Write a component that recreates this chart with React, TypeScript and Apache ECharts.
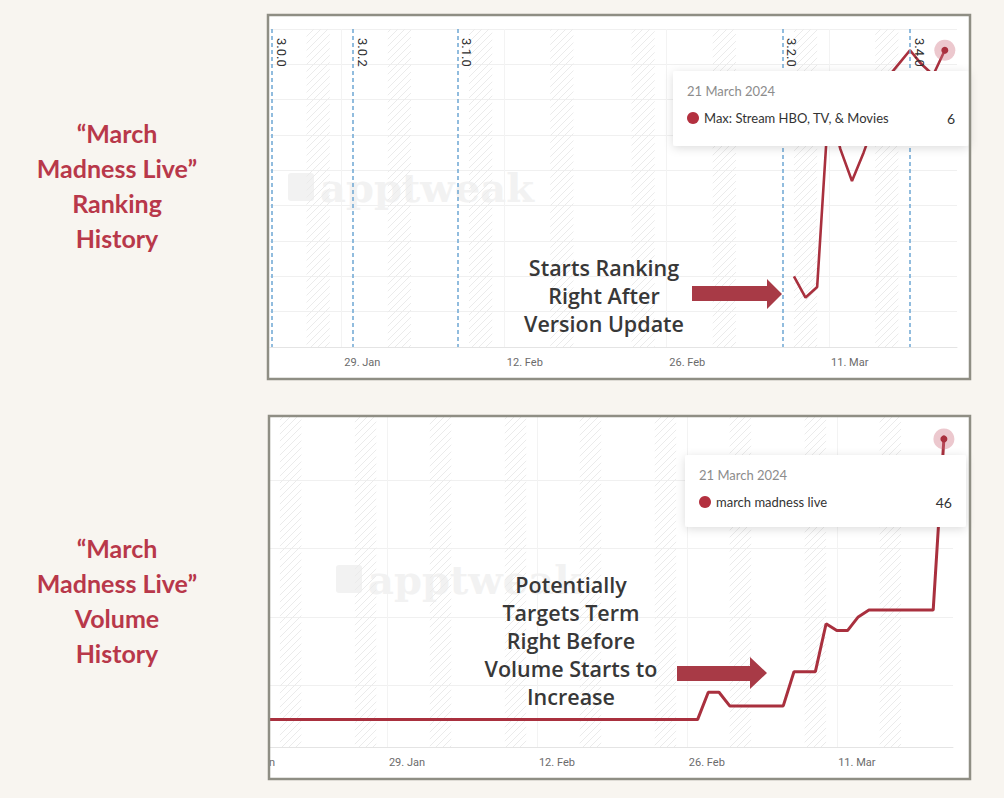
import React, { useEffect, useRef } from 'react';
import * as echarts from 'echarts';

// x values are days since 1 Jan 2024
const tickDates = ['2024-01-15', '2024-01-29', '2024-02-12', '2024-02-26', '2024-03-11'];
const tickLabels = ['15. Jan', '29. Jan', '12. Feb', '26. Feb', '11. Mar'];

const weekendStarts = ['2024-01-19', '2024-01-26', '2024-02-02', '2024-02-09', '2024-02-16', '2024-02-23', '2024-03-01', '2024-03-08', '2024-03-15'];
const weekendEnds = ['2024-01-21', '2024-01-28', '2024-02-04', '2024-02-11', '2024-02-18', '2024-02-25', '2024-03-03', '2024-03-10', '2024-03-17'];

const versionNames = ['3.0.0', '3.0.2', '3.1.0', '3.2.0', '3.4.0'];
const versionDates = ['2024-01-23', '2024-01-30', '2024-02-08', '2024-03-07', '2024-03-18'];

// keyword ranking of "march madness live" (lower is better)
const rankDates = ['2024-03-08', '2024-03-09', '2024-03-10', '2024-03-11', '2024-03-12', '2024-03-13', '2024-03-14',
  '2024-03-15', '2024-03-16', '2024-03-17', '2024-03-18', '2024-03-19', '2024-03-20', '2024-03-21'];
const rankValues = [70, 76, 73, 21, 34, 43, 35, 26, 14, 10, 6, 10, 13, 6];

// daily search volume, 14 Jan -> 21 Mar
const volumeFirstDate = '2024-01-14';
const volumeValues = [
  5, 5, 5, 5, 5, 5, 5,
  5, 5, 5, 5, 5, 5, 5,
  5, 5, 5, 5, 5, 5, 5,
  5, 5, 5, 5, 5, 5, 5,
  5, 5, 5, 5, 5, 5, 5,
  5, 5, 5, 5, 5, 5, 5,
  5, 5, 5, 9, 9, 7, 7,
  7, 7, 7, 7, 12, 12, 12,
  19, 18, 18, 20, 21, 21, 21,
  21, 21, 21, 21, 46
];

const RED = '#a9303e';
const BG = '#f8f5f0';

const dayOf = (s: string) => {
  const [y, m, d] = s.split('-').map(Number);
  return (Date.UTC(y, m - 1, d) - Date.UTC(2024, 0, 1)) / 864e5;
};

const tickDays = tickDates.map(dayOf);
const labelFor = (v: number) => {
  const i = tickDays.findIndex((t) => Math.abs(t - v) < 0.01);
  return i >= 0 ? tickLabels[i] : '';
};

const makeHatch = () => {
  const c = document.createElement('canvas');
  c.width = 7;
  c.height = 7;
  const ctx = c.getContext('2d')!;
  ctx.strokeStyle = '#ebebeb';
  ctx.lineWidth = 1;
  ctx.beginPath();
  ctx.moveTo(0, 7); ctx.lineTo(7, 0);
  ctx.moveTo(-1, 1); ctx.lineTo(1, -1);
  ctx.moveTo(6, 8); ctx.lineTo(8, 6);
  ctx.stroke();
  return c;
};

const xAxisFor = (gridIndex: number, min: number, max: number, pad: number, ticks: number[]) => ({
  type: 'value' as const,
  gridIndex,
  min,
  max,
  axisLine: { onZero: false, lineStyle: { color: '#e4e4e4' } },
  axisTick: { show: false, customValues: ticks },
  axisLabel: {
    customValues: ticks,
    formatter: labelFor,
    color: '#6b6b6b',
    fontFamily: 'Roboto',
    fontSize: 11,
    margin: 10,
    padding: [0, 0, 0, pad],
  },
  splitLine: { show: true, lineStyle: { color: '#f3f3f3' } },
});

const tooltipBox = (x: number, y: number, w: number, h: number, name: string, value: string) => ({
  type: 'group',
  z: 10,
  children: [
    {
      type: 'rect', z: 10,
      shape: { x, y, width: w, height: h, r: 3 },
      style: { fill: '#fff', shadowBlur: 10, shadowColor: 'rgba(0,0,0,0.14)', shadowOffsetY: 2 },
    },
    {
      type: 'text', z: 11, x: x + 14, y: y + 20,
      style: { text: '21 March 2024', fill: '#8c8c8c', font: '13px Lato', verticalAlign: 'middle' },
    },
    { type: 'circle', z: 11, shape: { cx: x + 20, cy: y + 47, r: 6 }, style: { fill: '#b3303f' } },
    {
      type: 'text', z: 11, x: x + 31, y: y + 47,
      style: { text: name, fill: '#333', font: '13px Lato', verticalAlign: 'middle' },
    },
    {
      type: 'text', z: 11, x: x + w - 14, y: y + 47,
      style: { text: value, fill: '#333', font: '14px Lato', align: 'right', verticalAlign: 'middle' },
    },
  ],
});

const watermark = (x: number, y: number) => ({
  type: 'group',
  z: 1,
  children: [
    { type: 'rect', z: 1, shape: { x, y: y - 14, width: 26, height: 28, r: 3 }, style: { fill: '#f2f2f2' } },
    {
      type: 'text', z: 1, x: x + 32, y,
      style: { text: 'apptweak', fill: '#f2f2f2', font: 'bold 40px "DejaVu Serif"', verticalAlign: 'middle' },
    },
  ],
});

const App: React.FC = () => {
  const chartRef = useRef<HTMLDivElement>(null);

  useEffect(() => {
    document.body.style.margin = '0';
    if (!chartRef.current) return;
    const chart = echarts.init(chartRef.current, null, { renderer: 'svg' });

    const hatch = { image: makeHatch(), repeat: 'repeat' };
    const weekendAreas = weekendStarts.map((s, i) => [{ xAxis: dayOf(s) }, { xAxis: dayOf(weekendEnds[i]) }]);
    const rankData = rankDates.map((d, i) => [dayOf(d), rankValues[i]]);
    const volStart = dayOf(volumeFirstDate);
    const volumeData = volumeValues.map((v, i) => [volStart + i, v]);
    const lastRank = rankData[rankData.length - 1];
    const lastVol = volumeData[volumeData.length - 1];

    const pin = (coord: number[]) => ({
      silent: true,
      symbol: 'circle',
      label: { show: false },
      data: [
        { coord, symbolSize: 21, itemStyle: { color: 'rgba(206,110,125,0.38)' } },
        { coord, symbolSize: 7, itemStyle: { color: RED } },
      ],
    });

    const option: any = {
      animation: false,
      backgroundColor: BG,
      grid: [
        { left: 270, top: 29, width: 687, height: 318 },
        { left: 230, top: 417, width: 723, height: 330 },
      ],
      xAxis: [
        xAxisFor(0, 21.85, 81.05, 42, tickDays.slice(1)),
        xAxisFor(1, 13.34, 80.85, 40, tickDays),
      ],
      yAxis: [
        {
          type: 'value', gridIndex: 0, inverse: true, min: 0, max: 90, interval: 10,
          axisLabel: { show: false }, axisLine: { show: false }, axisTick: { show: false },
          splitLine: { lineStyle: { color: '#f0f0f0' } },
        },
        {
          type: 'value', gridIndex: 1, min: 1, max: 49.2,
          axisLabel: { show: false }, axisLine: { show: false }, axisTick: { show: false },
          splitLine: { showMaxLine: false, lineStyle: { color: '#f0f0f0' } },
        },
      ],
      series: [
        {
          name: 'Max: Stream HBO, TV, & Movies',
          type: 'line',
          xAxisIndex: 0,
          yAxisIndex: 0,
          data: rankData,
          symbol: 'none',
          lineStyle: { color: RED, width: 2.6 },
          markArea: { silent: true, itemStyle: { color: hatch }, data: weekendAreas },
          markLine: {
            silent: true,
            symbol: ['none', 'none'],
            lineStyle: { color: '#6ea6d4', type: [4, 3], width: 1.5 },
            label: {
              show: true,
              position: 'insideStartTop',
              formatter: '{b}',
              color: '#2e2e2e',
              fontFamily: 'Roboto',
              fontSize: 13,
              distance: [9, 3],
            },
            data: versionNames.map((n, i) => ({ name: n, xAxis: dayOf(versionDates[i]) })),
          },
          markPoint: pin(lastRank),
        },
        {
          name: 'march madness live',
          type: 'line',
          xAxisIndex: 1,
          yAxisIndex: 1,
          data: volumeData,
          symbol: 'none',
          lineStyle: { color: RED, width: 3 },
          markArea: { silent: true, itemStyle: { color: hatch }, data: weekendAreas },
          markPoint: pin(lastVol),
        },
      ],
      graphic: [
        // chart panels
        { type: 'rect', z: -1, shape: { x: 268, y: 15, width: 702, height: 364 }, style: { fill: '#fff' } },
        { type: 'rect', z: -1, shape: { x: 269, y: 416, width: 701, height: 363 }, style: { fill: '#fff' } },
        watermark(288, 187),
        watermark(336, 579),
        // hide what spills out left of the lower panel
        { type: 'rect', z: 20, shape: { x: 215, y: 410, width: 53, height: 375 }, style: { fill: BG } },
        {
          type: 'rect', z: 21, shape: { x: 268, y: 15, width: 702, height: 364 },
          style: { fill: 'none', stroke: '#8f8e84', lineWidth: 2.5 },
        },
        {
          type: 'rect', z: 21, shape: { x: 269, y: 416, width: 701, height: 363 },
          style: { fill: 'none', stroke: '#8f8e84', lineWidth: 2.5 },
        },
        tooltipBox(673, 71, 296, 75, 'Max: Stream HBO, TV, & Movies', String(rankValues[rankValues.length - 1])),
        tooltipBox(685, 455, 281, 72, 'march madness live', String(volumeValues[volumeValues.length - 1])),
        // left titles
        {
          type: 'text', z: 5, x: 117, y: 115,
          style: {
            text: '\u201cMarch\nMadness Live\u201d\nRanking\nHistory', fill: '#b8384a',
            font: 'bold 25px Lato', align: 'center', lineHeight: 35,
          },
        },
        {
          type: 'text', z: 5, x: 117, y: 530,
          style: {
            text: '\u201cMarch\nMadness Live\u201d\nVolume\nHistory', fill: '#b8384a',
            font: 'bold 25px Lato', align: 'center', lineHeight: 35,
          },
        },
        // annotations
        {
          type: 'text', z: 5, x: 604, y: 253,
          style: {
            text: 'Starts Ranking\nRight After\nVersion Update', fill: '#383838',
            font: '600 21.5px "Open Sans"', align: 'center', lineHeight: 28,
          },
        },
        {
          type: 'text', z: 5, x: 571, y: 570,
          style: {
            text: 'Potentially\nTargets Term\nRight Before\nVolume Starts to\nIncrease', fill: '#383838',
            font: '600 21.5px "Open Sans"', align: 'center', lineHeight: 28,
          },
        },
        {
          type: 'polygon', z: 5,
          shape: { points: [[692, 286], [767, 286], [767, 279], [782, 294], [767, 309], [767, 301], [692, 301]] },
          style: { fill: '#a83a46' },
        },
        {
          type: 'polygon', z: 5,
          shape: { points: [[677, 666], [750, 666], [750, 657], [767, 673], [750, 689], [750, 681], [677, 681]] },
          style: { fill: '#a83a46' },
        },
      ],
    };

    chart.setOption(option);
    return () => {
      chart.dispose();
    };
  }, []);

  return <div ref={chartRef} style={{ width: 1004, height: 798, background: BG }} />;
};

export default App;
